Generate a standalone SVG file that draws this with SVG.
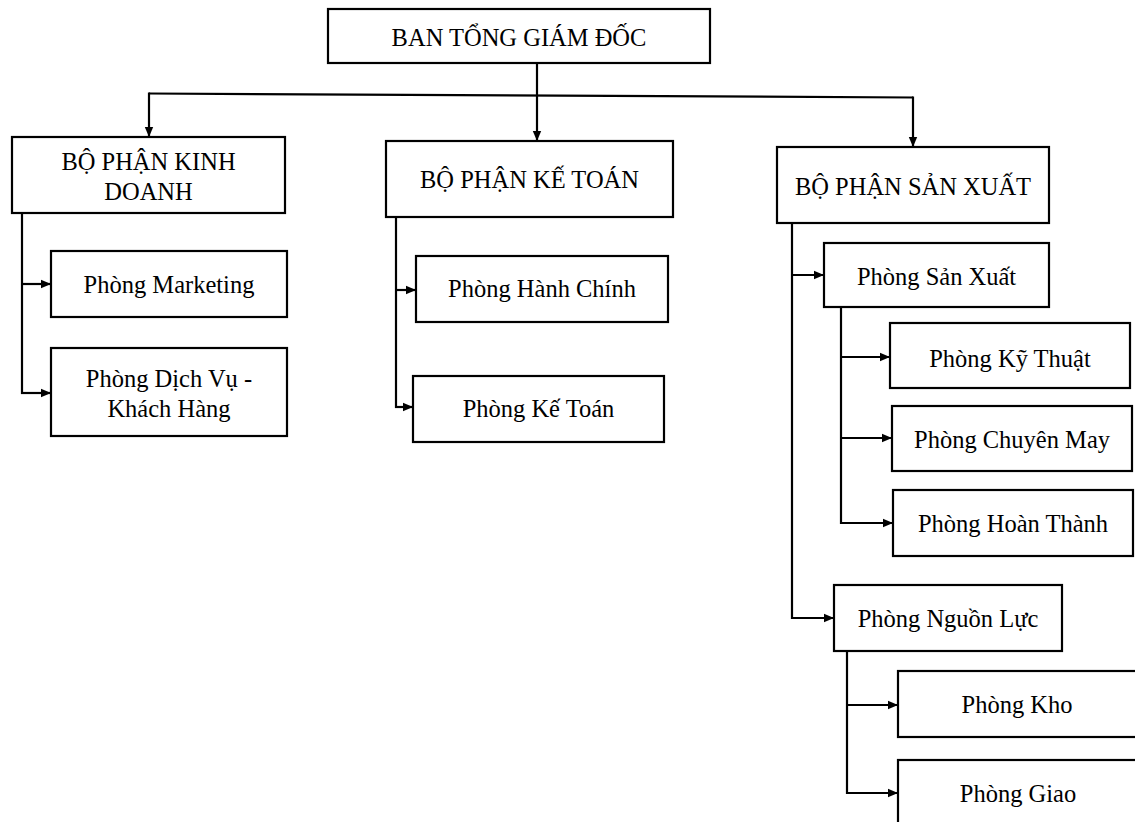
<svg xmlns="http://www.w3.org/2000/svg" width="1135" height="822" viewBox="0 0 1135 822">
<style>
.box{fill:#fff;stroke:#000;stroke-width:2.2}
.t{font-family:"Liberation Serif","Times New Roman",serif;font-size:24.5px;fill:#000;text-anchor:middle}
.c{fill:none;stroke:#000;stroke-width:2.2}
</style>
<defs>
<marker id="ah" markerUnits="userSpaceOnUse" markerWidth="10" markerHeight="10" viewBox="0 0 10 10" refX="10" refY="5" orient="auto">
<path d="M0,0.8 L10,5 L0,9.2 Z" fill="#000"/>
</marker>
</defs>
<rect width="1135" height="822" fill="#fff"/>
<g id="connectors">
<line class="c" x1="537" y1="63" x2="537" y2="141" marker-end="url(#ah)"/>
<line class="c" x1="149" y1="93.5" x2="913" y2="97.5"/>
<line class="c" x1="149" y1="92.5" x2="149" y2="137" marker-end="url(#ah)"/>
<line class="c" x1="913" y1="96.5" x2="913" y2="147" marker-end="url(#ah)"/>
<line class="c" x1="22" y1="213" x2="22" y2="394"/>
<line class="c" x1="21" y1="284" x2="51" y2="284" marker-end="url(#ah)"/>
<line class="c" x1="21" y1="393" x2="51" y2="393" marker-end="url(#ah)"/>
<line class="c" x1="396" y1="217" x2="396" y2="408"/>
<line class="c" x1="395" y1="290" x2="416" y2="290" marker-end="url(#ah)"/>
<line class="c" x1="395" y1="407" x2="413" y2="407" marker-end="url(#ah)"/>
<line class="c" x1="792" y1="223" x2="792" y2="619"/>
<line class="c" x1="791" y1="275" x2="824" y2="275" marker-end="url(#ah)"/>
<line class="c" x1="791" y1="618" x2="834" y2="618" marker-end="url(#ah)"/>
<line class="c" x1="841" y1="307" x2="841" y2="524"/>
<line class="c" x1="840" y1="357" x2="890" y2="357" marker-end="url(#ah)"/>
<line class="c" x1="840" y1="438" x2="892" y2="438" marker-end="url(#ah)"/>
<line class="c" x1="840" y1="523" x2="893" y2="523" marker-end="url(#ah)"/>
<line class="c" x1="847" y1="651" x2="847" y2="794"/>
<line class="c" x1="846" y1="705" x2="898" y2="705" marker-end="url(#ah)"/>
<line class="c" x1="846" y1="793" x2="898" y2="793" marker-end="url(#ah)"/>
</g>
<g id="ban-tong-giam-doc"><rect class="box" x="328" y="9" width="382" height="54"/><text class="t" x="519" y="46">BAN TỔNG GIÁM ĐỐC</text></g>
<g id="bp-kinh-doanh"><rect class="box" x="12" y="137" width="273" height="76"/><text class="t" x="148.5" y="170">BỘ PHẬN KINH</text><text class="t" x="148.5" y="200">DOANH</text></g>
<g id="bp-ke-toan"><rect class="box" x="386" y="141" width="287" height="76"/><text class="t" x="529.5" y="188">BỘ PHẬN KẾ TOÁN</text></g>
<g id="bp-san-xuat"><rect class="box" x="777" y="147" width="272" height="76"/><text class="t" x="913" y="195">BỘ PHẬN SẢN XUẤT</text></g>
<g id="p-marketing"><rect class="box" x="51" y="251" width="236" height="66"/><text class="t" x="169" y="293">Phòng Marketing</text></g>
<g id="p-dich-vu"><rect class="box" x="51" y="348" width="236" height="88"/><text class="t" x="169" y="387">Phòng Dịch Vụ -</text><text class="t" x="169" y="417">Khách Hàng</text></g>
<g id="p-hanh-chinh"><rect class="box" x="416" y="256" width="252" height="66"/><text class="t" x="542" y="297">Phòng Hành Chính</text></g>
<g id="p-ke-toan"><rect class="box" x="413" y="376" width="251" height="66"/><text class="t" x="538.5" y="417">Phòng Kế Toán</text></g>
<g id="p-san-xuat"><rect class="box" x="824" y="243" width="225" height="64"/><text class="t" x="936.5" y="285">Phòng Sản Xuất</text></g>
<g id="p-ky-thuat"><rect class="box" x="890" y="323" width="240" height="65"/><text class="t" x="1010" y="367">Phòng Kỹ Thuật</text></g>
<g id="p-chuyen-may"><rect class="box" x="892" y="406" width="240" height="65"/><text class="t" x="1012" y="448">Phòng Chuyên May</text></g>
<g id="p-hoan-thanh"><rect class="box" x="893" y="490" width="240" height="66"/><text class="t" x="1013" y="532">Phòng Hoàn Thành</text></g>
<g id="p-nguon-luc"><rect class="box" x="834" y="585" width="228" height="66"/><text class="t" x="948" y="627">Phòng Nguồn Lực</text></g>
<g id="p-kho"><rect class="box" x="898" y="671" width="240" height="66"/><text class="t" x="1017" y="713">Phòng Kho</text></g>
<g id="p-giao"><rect class="box" x="898" y="760" width="240" height="80"/><text class="t" x="1018" y="802">Phòng Giao</text></g>
</svg>
